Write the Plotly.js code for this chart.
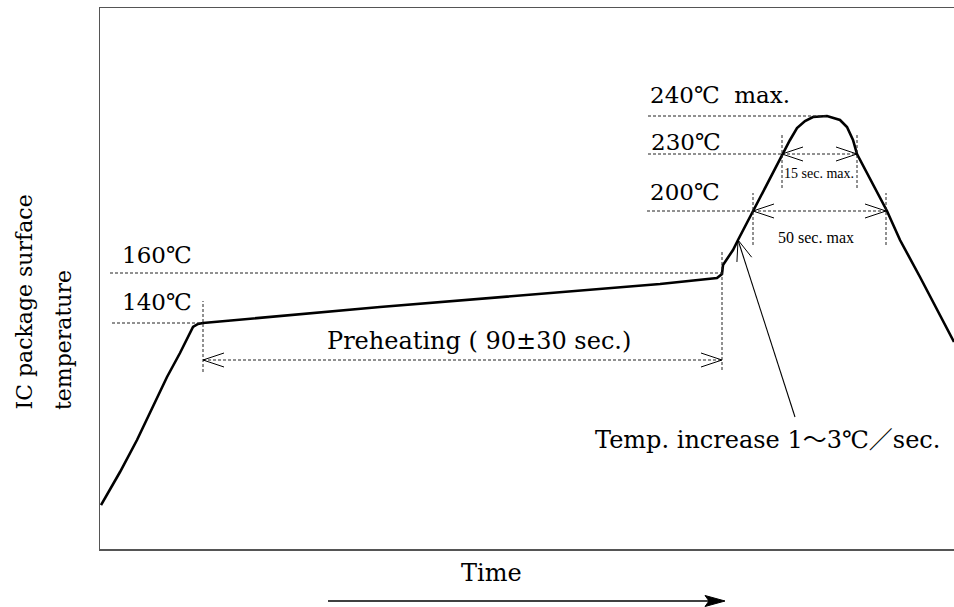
<!DOCTYPE html>
<html>
<head>
<meta charset="utf-8">
<script src="https://cdn.plot.ly/plotly-3.0.1.min.js"></script>
<style>html,body{margin:0;padding:0;background:#fff;}#chart{width:954px;height:607px;}</style>
</head>
<body>
<div id="chart"></div>
<script>
// Reflow profile (schematic units: time and temperature, arbitrary scale)
const time = [1, 20, 37, 52, 67, 80, 93, 98, 103, 280, 460, 560, 617, 622, 623, 633, 638, 653, 682, 690, 697, 705, 713, 727, 740, 747, 753, 757, 787, 800, 820, 837, 854];
const temp = [44, 77, 109, 140, 172, 196, 222, 225, 226, 242, 257, 265, 271, 275, 284, 299, 309, 338, 395, 409, 421, 428, 432, 433, 429, 422, 409, 395, 338, 309, 272, 239, 207];

// Reference temperature levels
const levelLabels = ['240℃\u00a0\u00a0max.', '230℃', '200℃', '160℃', '140℃'];
const levelY = [433, 395, 338, 276, 226];
const levelX0 = [548, 548, 547, 10, 12];
const levelX1 = [727, 682, 653, 622, 103];

// Vertical dotted markers
const markX = [103, 622, 682, 757, 653, 786];
const markY0 = [177, 179, 361, 361, 304, 304];
const markY1 = [248, 299, 416, 416, 356, 356];

// Duration spans (double arrows)
const spanX0 = [103, 682, 653];
const spanX1 = [622, 757, 786];
const spanY = [189, 395, 338];
const spanLabels = ['Preheating ( 90±30 sec.)', '15 sec. max.', '50 sec. max'];

const XR = 854, YR = 541;
const serif = "'DejaVu Serif', 'Noto Sans CJK JP', serif";
const narrow = "'Liberation Serif', 'Noto Sans CJK JP', serif";
const dotLine = {color: '#222', width: 1, dash: '3px,2px'};
const thin = {color: '#000', width: 1};

const shapes = [];
for (let i = 0; i < levelY.length; i++) {
  shapes.push({type: 'line', xref: 'x', yref: 'y', x0: levelX0[i], x1: levelX1[i], y0: levelY[i], y1: levelY[i], line: dotLine});
}
for (let i = 0; i < markX.length; i++) {
  shapes.push({type: 'line', xref: 'x', yref: 'y', x0: markX[i], x1: markX[i], y0: markY0[i], y1: markY1[i], line: dotLine});
}
function head(tx, ty, dx, dy, len, half) {
  const n = Math.hypot(dx, dy); const ux = dx / n, uy = dy / n;
  const bx = tx + ux * len, by = ty + uy * len;
  const px = -uy * half, py = ux * half;
  return 'M' + (bx + px) + ',' + (by + py) + ' L' + tx + ',' + ty + ' L' + (bx - px) + ',' + (by - py);
}
for (let i = 0; i < spanX0.length; i++) {
  shapes.push({type: 'line', xref: 'x', yref: 'y', x0: spanX0[i], x1: spanX1[i], y0: spanY[i], y1: spanY[i], line: dotLine});
  shapes.push({type: 'path', xref: 'x', yref: 'y', path: head(spanX0[i], spanY[i], 1, 0, 21, 7), line: thin});
  shapes.push({type: 'path', xref: 'x', yref: 'y', path: head(spanX1[i], spanY[i], -1, 0, 21, 7), line: thin});
}
// Pointer for the ramp rate
const ptrTip = [638, 309], ptrTail = [695, 132];
shapes.push({type: 'line', xref: 'x', yref: 'y', x0: ptrTail[0], y0: ptrTail[1], x1: ptrTip[0], y1: ptrTip[1], line: {color: '#000', width: 1.1}});
(function () {
  const dx = ptrTail[0] - ptrTip[0], dy = ptrTail[1] - ptrTip[1];
  const a = Math.atan2(dy, dx), L = 22, w = 0.36;
  const p1 = [ptrTip[0] + L * Math.cos(a + w), ptrTip[1] + L * Math.sin(a + w)];
  const p2 = [ptrTip[0] + L * Math.cos(a - w), ptrTip[1] + L * Math.sin(a - w)];
  shapes.push({type: 'path', xref: 'x', yref: 'y', path: 'M' + p1[0] + ',' + p1[1] + ' L' + ptrTip[0] + ',' + ptrTip[1] + ' L' + p2[0] + ',' + p2[1], line: {color: '#000', width: 1}});
})();
// Time arrow below the axis (paper coords)
const ta = {x0: 228 / XR, x1: 625 / XR, y: -52 / YR, len: 20 / XR, half: 5.5 / YR, notch: 4 / XR};
shapes.push({type: 'line', xref: 'paper', yref: 'paper', x0: ta.x0, x1: ta.x1 - ta.len + ta.notch, y0: ta.y, y1: ta.y, line: {color: '#000', width: 1.6}});
shapes.push({type: 'path', xref: 'paper', yref: 'paper',
  path: 'M' + ta.x1 + ',' + ta.y + ' L' + (ta.x1 - ta.len) + ',' + (ta.y + ta.half) + ' L' + (ta.x1 - ta.len + ta.notch) + ',' + ta.y + ' L' + (ta.x1 - ta.len) + ',' + (ta.y - ta.half) + ' Z',
  fillcolor: '#000', line: {color: '#000', width: 1}});

const annotations = [];
const levelTextX = [548, 549, 548, 20, 20];
const levelTextY = [454, 407, 357, 294, 247];
for (let i = 0; i < levelLabels.length; i++) {
  annotations.push({xref: 'x', yref: 'y', x: levelTextX[i], y: levelTextY[i], xanchor: 'left', yanchor: 'middle', showarrow: false, text: levelLabels[i], font: {family: serif, size: 23, color: '#000'}});
}
const spanTextX = [379, 719, 716];
const spanTextY = [208, 376, 312];
const spanFont = [{family: serif, size: 24, color: '#000'}, {family: narrow, size: 14, color: '#000'}, {family: narrow, size: 16, color: '#000'}];
for (let i = 0; i < spanLabels.length; i++) {
  annotations.push({xref: 'x', yref: 'y', x: spanTextX[i], y: spanTextY[i], xanchor: 'center', yanchor: 'middle', showarrow: false, text: spanLabels[i], font: spanFont[i]});
}
annotations.push({xref: 'x', yref: 'y', x: 493, y: 109, xanchor: 'left', yanchor: 'middle', showarrow: false, text: 'Temp. increase 1～3℃／sec.', font: {family: serif, size: 24, color: '#000'}});
annotations.push({xref: 'paper', yref: 'paper', x: 391 / XR, y: -24 / YR, xanchor: 'center', yanchor: 'middle', showarrow: false, text: 'Time', font: {family: serif, size: 24, color: '#000'}});
annotations.push({xref: 'paper', yref: 'paper', x: -76 / XR, y: 137 / YR, xanchor: 'center', yanchor: 'bottom', textangle: -90, showarrow: false, text: 'IC package surface', font: {family: serif, size: 22, color: '#000'}});
annotations.push({xref: 'paper', yref: 'paper', x: -37 / XR, y: 137 / YR, xanchor: 'center', yanchor: 'bottom', textangle: -90, showarrow: false, text: 'temperature', font: {family: serif, size: 22, color: '#000'}});

const trace = {x: time, y: temp, type: 'scatter', mode: 'lines', line: {color: '#000', width: 2.6}, hoverinfo: 'skip', cliponaxis: true};

const layout = {
  width: 954, height: 607,
  margin: {l: 100, r: 0, t: 8, b: 58},
  paper_bgcolor: '#fff', plot_bgcolor: '#fff',
  showlegend: false,
  xaxis: {range: [0, XR], showline: true, mirror: true, linecolor: '#555', linewidth: 1.5, showgrid: false, zeroline: false, showticklabels: false, ticks: ''},
  yaxis: {range: [0, YR], showline: true, linecolor: '#555', linewidth: 1.5, showgrid: false, zeroline: false, showticklabels: false, ticks: ''},
  shapes: shapes,
  annotations: annotations
};
Plotly.newPlot('chart', [trace], layout, {staticPlot: true, displayModeBar: false});
</script>
</body>
</html>
